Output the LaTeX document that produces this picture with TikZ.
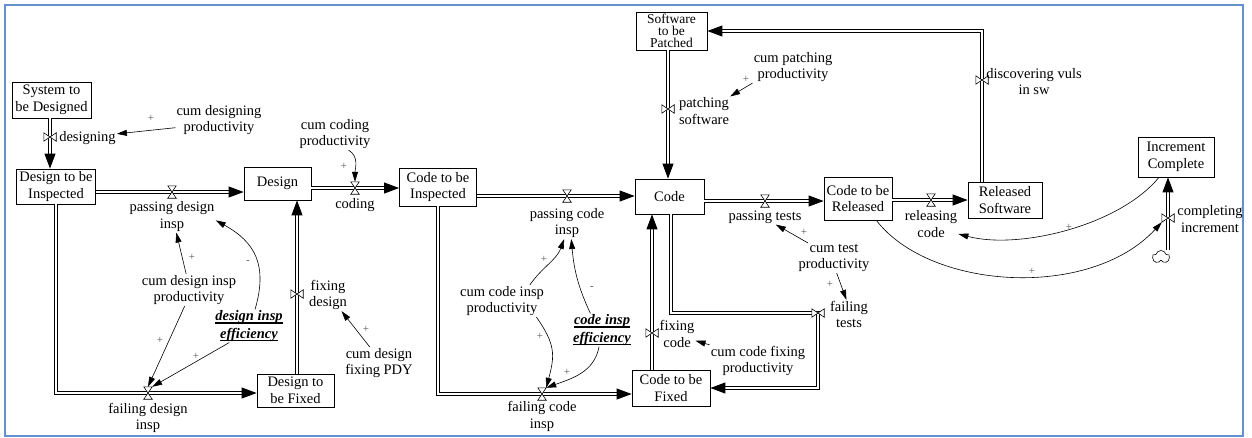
\documentclass[tikz,border=0pt]{standalone}
\usepackage{fontspec}
\setmainfont{Liberation Serif}
\usetikzlibrary{arrows.meta,shapes.symbols,calc}

% thick underline for the shadow-variable names
\newcommand{\thickul}[1]{\sbox0{#1}\rlap{\rule[-2.8pt]{\wd0}{1.2pt}}\usebox0}

\definecolor{framecol}{RGB}{100,145,205}
\definecolor{signcol}{RGB}{85,85,85}

\begin{document}
\begin{tikzpicture}[x=1pt,y=1pt,
  font=\fontsize{14.5}{16.5}\selectfont,
  stock/.style={draw, line width=0.8pt, align=center, inner sep=1pt},
  lbl/.style={align=center, inner sep=1pt},
  shadow/.style={align=center, inner sep=1pt, font=\fontsize{14.5}{17.5}\selectfont\bfseries\itshape},
  pipe/.style={double, double distance=2.2pt, line width=0.9pt, -{Triangle[length=15pt,width=11pt]}},
  link/.style={line width=0.6pt, -{Triangle[length=10pt,width=6pt]}},
  vbox/.style={inner sep=0, minimum width=8pt, minimum height=12pt},
  hbox/.style={inner sep=0, minimum width=12pt, minimum height=8pt},
  valve/.style={draw, fill=white, line width=0.6pt},
  sign/.style={inner sep=0, text=signcol, font=\fontsize{11}{11}\selectfont},
]
\useasboundingbox (0,0) rectangle (1252,-437);
\draw[framecol, line width=1.5pt] (5,-5) rectangle (1243,-436);

% ---- stocks ----
\node[stock, minimum width=79pt, minimum height=36pt] (sysd) at (51.5,-100) {System to\\be Designed};
\node[stock, minimum width=79pt, minimum height=35pt] (dti) at (56,-186.5) {Design to be\\Inspected};
\node[stock, minimum width=67pt, minimum height=33pt] (design) at (277.5,-183.5) {Design};
\node[stock, minimum width=77pt, minimum height=33pt] (dtf) at (295.5,-390.5) {Design to\\be Fixed};
\node[stock, minimum width=77pt, minimum height=38pt] (cti) at (438,-187) {Code to be\\Inspected};
\node[stock, minimum width=69pt, minimum height=35pt] (code) at (669.5,-196.5) {Code};
\node[stock, minimum width=78pt, minimum height=36pt] (ctf) at (671,-388) {Code to be\\Fixed};
\node[stock, minimum width=68pt, minimum height=43pt] (ctr) at (858,-198.5) {Code to be\\Released};
\node[stock, minimum width=74pt, minimum height=36pt] (rs) at (1005,-200) {Released\\Software};
\node[stock, minimum width=76pt, minimum height=40pt] (ic) at (1176,-157) {Increment\\Complete};
\node[stock, minimum width=71pt, minimum height=38pt, font=\fontsize{13.5}{12}\selectfont] (stp) at (671.5,-31) {Software\\to be\\Patched};
\node[cloud, draw, cloud puffs=5, aspect=1.3, minimum width=17pt, minimum height=13pt, inner sep=0, line width=0.6pt] (src) at (1161,-257) {};

% ---- valve positions ----
\node[hbox] (vdes) at (50,-137) {};
\node[vbox] (vpdi) at (172,-192) {};
\node[vbox] (vfdi) at (148,-393) {};
\node[hbox] (vfd) at (297,-294) {};
\node[vbox] (vcod) at (355,-188) {};
\node[vbox] (vpci) at (567,-196) {};
\node[vbox] (vfci) at (542,-394) {};
\node[hbox] (vfc) at (652,-333) {};
\node[hbox] (vft) at (818,-313) {};
\node[vbox] (vpt) at (765,-201) {};
\node[vbox] (vrc) at (931,-200) {};
\node[hbox] (vdv) at (982,-80) {};
\node[hbox] (vps) at (668,-109) {};
\node[hbox] (vci) at (1168,-218) {};

% ---- flows ----
\draw[pipe] (sysd.south -| vdes) -- (dti.north -| vdes);
\draw[pipe] (dti.east |- vpdi) -- (design.west |- vpdi);
\draw[pipe] (dti.south) |- (dtf.west |- vfdi);
\draw[pipe] (dtf.north -| vfd) -- (design.south -| vfd);
\draw[pipe] (design.east |- vcod) -- (cti.west |- vcod);
\draw[pipe] (cti.east |- vpci) -- (code.west |- vpci);
\draw[pipe] (cti.south) |- (ctf.west |- vfci);
\draw[pipe] (ctf.north -| vfc) -- (code.south -| vfc);
\draw[pipe] ($(code.south)+(1.5,0)$) |- (vft.center) |- (ctf.east);
\draw[pipe] (code.east |- vpt) -- (ctr.west |- vpt);
\draw[pipe] (ctr.east |- vrc) -- (rs.west |- vrc);
\draw[pipe] (rs.north -| vdv) |- (stp.east);
\draw[pipe] (stp.south -| vps) -- (code.north -| vps);
\draw[pipe] (src.north -| vci) -- (ic.south -| vci);

% ---- valves ----
\foreach \v in {vpdi,vfdi,vcod,vpci,vfci,vpt,vrc}
  \draw[valve] (\v.north west) -- (\v.north east) -- (\v.south west) -- (\v.south east) -- cycle;
\foreach \v in {vdes,vfd,vfc,vft,vps,vdv,vci}
  \draw[valve] (\v.north west) -- (\v.south west) -- (\v.north east) -- (\v.south east) -- cycle;

% ---- flow names ----
\node[lbl] (l_des) at (87.5,-138) {designing};
\node[lbl] (l_pdi) at (172,-216.5) {passing design\\insp};
\node[lbl] (l_fdi) at (148,-418) {failing design\\insp};
\node[lbl] (l_fd) at (328,-295) {fixing\\design};
\node[lbl] (l_cod) at (355,-205) {coding};
\node[lbl] (l_pci) at (567,-223) {passing code\\insp};
\node[lbl] (l_fci) at (542,-416.5) {failing code\\insp};
\node[lbl] (l_fc) at (677,-334) {fixing\\code};
\node[lbl] (l_ft) at (849,-314.5) {failing\\tests};
\node[lbl] (l_pt) at (765,-217) {passing tests};
\node[lbl] (l_rc) at (931,-224) {releasing\\code};
\node[lbl] (l_dv) at (1034,-81.5) {discovering vuls\\in sw};
\node[lbl] (l_ps) at (704,-111) {patching\\software};
\node[lbl] (l_ci) at (1210,-219) {completing\\increment};

% ---- auxiliaries ----
\node[lbl] (cdp) at (219,-120) {cum designing\\productivity};
\node[lbl] (ccp) at (335,-134) {cum coding\\productivity};
\node[lbl] (cdip) at (189,-290) {cum design insp\\productivity};
\node[shadow] (die) at (249,-326) {\thickul{design insp}\\\thickul{efficiency}};
\node[lbl] (cdfp) at (379,-363) {cum design\\fixing PDY};
\node[lbl] (ccip) at (502,-301) {cum code insp\\productivity};
\node[shadow] (cie) at (602,-330) {\thickul{code insp}\\\thickul{efficiency}};
\node[lbl] (cpp) at (793,-67) {cum patching\\productivity};
\node[lbl] (ctp) at (834,-258) {cum test\\productivity};
\node[lbl] (ccfp) at (758,-361) {cum code fixing\\productivity};

% ---- information links ----
\draw[link] (cdp.190) -- (l_des.8);
\draw[link] (ccp.-50) to[out=-30, in=90] (vcod.north);
\draw[link] (cdip.100) -- (l_pdi.-75);
\draw[link] (cdip.-105) -- (vfdi.north);
\draw[link] (die.70) .. controls (268,-265) and (255,-242) .. (l_pdi.-5);
\draw[link] (die.-140) -- (vfdi.north east);
\draw[link] (cdfp.120) -- (l_fd.-50);
\draw[link] (ccip.30) to[out=55, in=-110] (l_pci.-100);
\draw[link] (ccip.-25) to[out=-55, in=75, looseness=1.2] (vfci.north east);
\draw[link] (cie.125) to[out=115, in=-85] (l_pci.-75);
\draw[link] (cie.-100) to[out=-100, in=20] (vfci.north east);
\draw[link] (cpp.south west) -- (l_ps.north east);
\draw[link] (ctp.150) -- (l_pt.-35);
\draw[link] (ctp.-80) -- (l_ft.100);
\draw[link] (ccfp.north west) -- (l_fc.-20);
\draw[link] (ctr.-50) .. controls (930,-290) and (1090,-300) .. (vci.south west);
\draw[link] (ic.-130) .. controls (1120,-225) and (1020,-250) .. (l_rc.-20);

% ---- link polarities ----
\node[sign] (s1) at (151,-118) {+};
\node[sign] (s2) at (344,-166) {+};
\node[sign] (s3) at (192,-257) {+};
\node[sign] (s4) at (248,-262) {-};
\node[sign] (s5) at (160,-340) {+};
\node[sign] (s6) at (196,-356) {+};
\node[sign] (s7) at (366,-329) {+};
\node[sign] (s8) at (544,-259) {+};
\node[sign] (s9) at (592,-288) {-};
\node[sign] (s10) at (540,-336) {+};
\node[sign] (s11) at (567,-372) {+};
\node[sign] (s12) at (746,-79) {+};
\node[sign] (s13) at (804,-232) {+};
\node[sign] (s14) at (830,-284) {+};
\node[sign] (s15) at (1032,-271) {+};
\node[sign] (s16) at (1069,-227) {+};
\end{tikzpicture}
\end{document}
